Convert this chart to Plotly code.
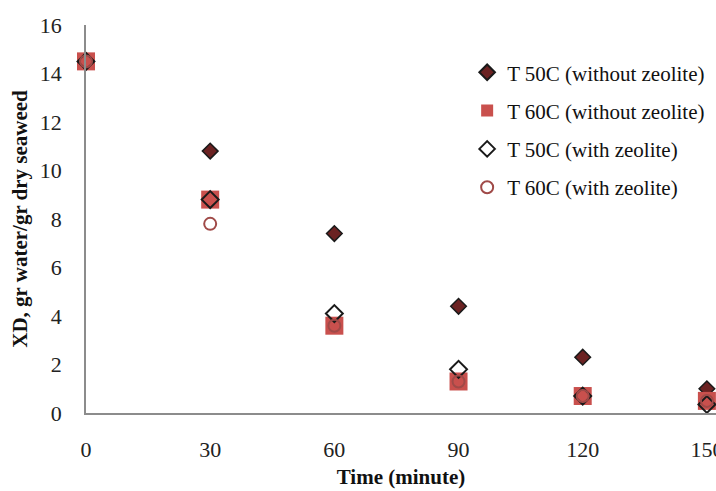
import plotly.graph_objects as go

# Drying time (minutes)
time_min = [0, 30, 60, 90, 120, 150]

# Moisture content XD (gr water / gr dry seaweed)
t50_without = [14.5, 10.8, 7.4, 4.4, 2.3, 1.0]
t60_without = [14.5, 8.8, 3.6, 1.3, 0.7, 0.5]
t50_with = [14.5, 8.8, 4.1, 1.8, 0.7, 0.35]
t60_with = [14.5, 7.8, 3.6, 1.3, 0.7, 0.5]

series_names = [
    "T 50C (without zeolite)",
    "T 60C (without zeolite)",
    "T 50C (with zeolite)",
    "T 60C (with zeolite)",
]

serif = "Liberation Serif, Times New Roman, serif"

fig = go.Figure()
fig.add_trace(go.Scatter(
    x=time_min, y=t50_without, mode="markers", name=series_names[0],
    legendgroup="a", cliponaxis=False,
    marker=dict(symbol="diamond", size=12, color="#6B2222",
                line=dict(color="#1a1a1a", width=1.5)),
))
fig.add_trace(go.Scatter(
    x=time_min, y=t60_without, mode="markers", name=series_names[1],
    legendgroup="b", cliponaxis=False,
    marker=dict(symbol="square", size=18, color="#C9504D",
                line=dict(color="#C9504D", width=0)),
))
fig.add_trace(go.Scatter(
    x=time_min, y=t50_with, mode="markers", name=series_names[2],
    legendgroup="c", cliponaxis=False,
    marker=dict(symbol="diamond-open", size=13, color="#1a1a1a",
                line=dict(color="#1a1a1a", width=2)),
))
fig.add_trace(go.Scatter(
    x=time_min, y=t60_with, mode="markers", name=series_names[3],
    legendgroup="d", cliponaxis=False,
    marker=dict(symbol="circle-open", size=12, color="#A04A48",
                line=dict(color="#A04A48", width=2)),
))

fig.update_layout(
    width=716, height=491,
    margin=dict(l=86, r=0, t=25, b=78, autoexpand=False),
    plot_bgcolor="white", paper_bgcolor="white",
    font=dict(family=serif, size=22, color="#222"),
    showlegend=True,
    legend=dict(
        x=0.605, y=0.93, xanchor="left", yanchor="top",
        font=dict(family=serif, size=21, color="#111"),
        tracegroupgap=8, itemwidth=30, itemsizing="constant",
        bgcolor="rgba(0,0,0,0)",
    ),
    xaxis=dict(
        range=[0, 152.2], tickvals=[0, 30, 60, 90, 120, 150],
        automargin=False,
        showgrid=False, zeroline=False,
        showline=True, linecolor="#8c8c8c", linewidth=1.5,
        ticks="outside", ticklen=16, tickcolor="rgba(0,0,0,0)",
        ticklabeloverflow="allow",
        tickfont=dict(family=serif, size=22, color="#222"),
        title=dict(text="<b>Time (minute)</b>", standoff=8,
                   font=dict(family=serif, size=21, color="#111")),
    ),
    yaxis=dict(
        range=[0, 16], tickvals=[0, 2, 4, 6, 8, 10, 12, 14, 16],
        automargin=False,
        showgrid=False, zeroline=False,
        showline=True, linecolor="#8c8c8c", linewidth=1.5,
        ticks="outside", ticklen=18, tickcolor="rgba(0,0,0,0)",
        tickfont=dict(family=serif, size=22, color="#222"),
        title=dict(text="<b>XD, gr water/gr dry seaweed</b>", standoff=6,
                   font=dict(family=serif, size=21, color="#111")),
    ),
)

fig.write_html("out.html")
